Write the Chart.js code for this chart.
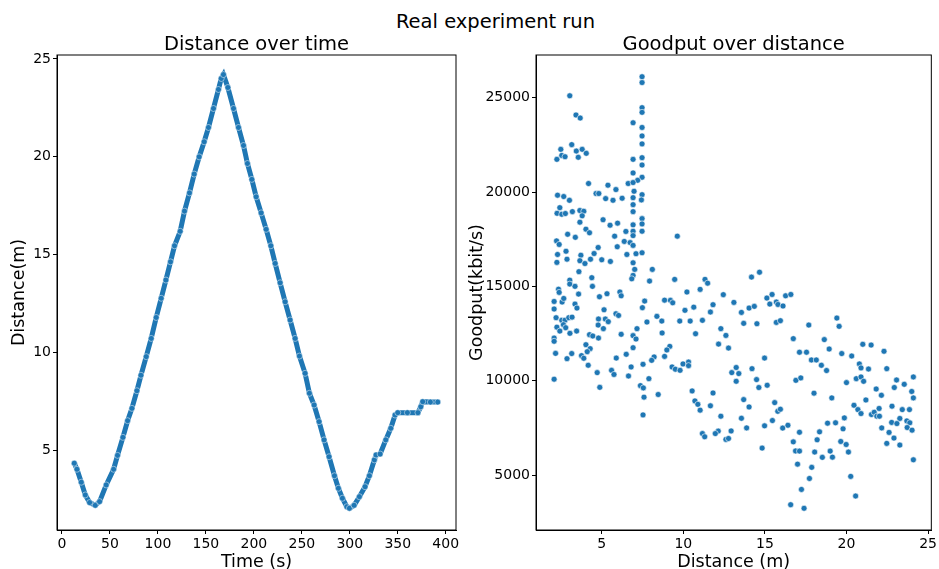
<!DOCTYPE html>
<html>
<head>
<meta charset="utf-8">
<script src="https://cdn.jsdelivr.net/npm/chart.js@4.4.1/dist/chart.umd.min.js"></script>
<style>
  body { margin: 0; width: 939px; height: 569px; background: #fff; position: relative; overflow: hidden; font-family: "DejaVu Sans"; }
  #suptitle { position: absolute; left: 0; top: 10px; width: 991px; text-align: center; font-size: 19.5px; line-height: 24px; color: #000; }
  canvas { position: absolute; top: 0; }
  #distanceChart { left: 0; }
  #goodputChart { left: 466px; }
</style>
</head>
<body>
<div id="suptitle">Real experiment run</div>
<canvas id="distanceChart" width="470" height="569"></canvas>
<canvas id="goodputChart" width="473" height="569"></canvas>
<script>
// left: distance of the robot over time
const runTime = [
  12.8, 15.6, 20.1, 24.3, 28.8, 34.7, 39.2, 46.1, 53.8, 57.9, 63.5, 68.4, 72.9, 78.1, 82.3, 87.8,
  93.0, 98.2, 103.4, 108.3, 113.1, 117.3, 123.2, 127.7, 132.9, 137.8, 143.0, 148.2, 152.7, 157.9,
  163.1, 166.0, 168.3, 172.9, 178.8, 184.0, 189.2, 193.3, 197.9, 202.4, 207.6, 212.8, 217.7, 222.2,
  227.4, 232.6, 237.8, 243.0, 247.5, 253.4, 257.9, 262.8, 268.0, 273.2, 278.4, 284.0, 288.1, 292.3,
  296.9, 299.6, 304.5, 310.0, 315.9, 320.4, 325.6, 327.4, 331.6, 337.5, 342.7, 347.2, 350.0, 360.0,
  371.0, 374.0, 376.0, 384.0, 391.7
];
const runDistance = [
  4.36, 4.05, 3.39, 2.74, 2.35, 2.21, 2.40, 3.25, 4.05, 4.76, 5.68, 6.53, 7.16, 8.06, 8.85, 9.80,
  10.73, 11.80, 12.78, 13.71, 14.64, 15.46, 16.20, 17.23, 18.16, 19.12, 20.00, 20.77, 21.50, 22.47,
  23.44, 24.00, 24.20, 23.54, 22.47, 21.50, 20.58, 19.66, 18.85, 17.96, 17.14, 16.30, 15.46, 14.56,
  13.57, 12.60, 11.67, 10.73, 9.83, 8.95, 7.93, 7.33, 6.48, 5.55, 4.69, 3.72, 3.08, 2.57,
  2.14, 2.06, 2.21, 2.65, 3.16, 3.72, 4.53, 4.78, 4.83, 5.55, 6.14, 6.82, 6.94, 6.94,
  6.94, 7.24, 7.50, 7.48, 7.48
];

// right: goodput samples against distance
const goodputDistance = [
  3.04, 3.42, 3.68, 7.47, 7.47, 7.47, 7.47, 6.92, 7.47, 7.47, 7.47, 3.16, 2.49, 3.44, 3.80, 4.05,
  2.55, 2.75, 2.25, 3.56, 6.92, 7.47, 7.47, 7.47, 6.92, 7.20, 6.62, 6.92, 4.19, 5.38, 5.87, 6.98,
  4.65, 4.82, 2.29, 2.67, 7.47, 5.24, 5.69, 6.25, 3.02, 6.92, 7.43, 6.92, 2.43, 2.26, 2.55, 2.77,
  3.20, 3.66, 3.90, 3.80, 6.92, 7.47, 5.08,
  7.47, 3.66, 5.51, 5.97, 6.92, 4.03, 4.25, 2.91, 3.38, 6.48, 6.92, 7.47, 6.92, 5.79, 2.23, 2.39,
  6.38, 6.74, 6.92, 4.78, 5.95, 2.81, 4.53, 3.72, 6.54, 7.10, 7.47, 2.29, 2.87, 4.31, 5.00, 5.53,
  2.25, 3.66, 3.97, 6.92, 8.10, 7.02, 3.60, 6.92, 6.84, 4.39, 7.93, 3.04, 3.04, 3.36, 4.43, 2.35,
  2.39, 6.11, 6.19, 3.58, 5.32, 4.86, 2.08, 2.57, 2.67, 3.36, 7.63, 2.08, 3.48, 5.14, 7.49, 5.87,
  6.03, 8.38, 2.20, 2.55, 2.75, 2.98, 3.18, 4.80, 5.22, 5.40, 7.77, 2.65, 4.78, 2.25, 2.79, 5.10,
  7.16, 2.43, 3.46, 3.05, 4.25, 4.45, 4.80, 6.19, 6.92, 7.10, 2.08, 2.08, 4.03, 4.29, 4.11, 6.92,
  2.17, 3.16, 3.76, 3.90, 2.87, 5.89, 6.50, 8.21, 8.06, 4.17, 7.53, 6.80, 5.60, 5.75, 4.72, 6.64,
  7.89, 2.08,
  4.88, 7.37, 7.55, 7.59, 7.53, 8.46,
  9.63, 9.47, 11.33, 11.49, 14.67, 14.18, 10.22, 11.03, 12.45, 8.85, 9.21, 9.35, 11.82, 13.10, 15.12, 15.44,
  16.27, 16.59, 15.30, 15.70, 15.80, 16.11, 10.10, 10.64, 11.66, 13.56, 14.03, 14.35, 8.68, 9.78, 10.42, 11.17,
  13.70, 14.51, 15.70, 15.95, 8.70, 10.75, 12.30, 12.61, 16.74, 12.16, 12.77, 9.17, 8.99, 8.85, 14.98, 9.31,
  9.51, 9.98, 10.32, 10.32, 9.80, 13.24, 14.21,
  12.97, 13.40, 13.24, 14.49, 14.63, 15.14, 16.90, 10.54, 11.82, 10.71, 10.89, 11.03, 11.66, 12.30, 13.70, 14.03,
  15.60, 15.79, 15.95, 13.56, 15.46, 14.98, 13.88, 16.41, 16.09, 12.93, 12.14, 11.96, 11.17, 11.31, 12.61, 12.77,
  16.74, 16.88, 17.00, 14.83, 16.58,
  19.41, 19.55, 17.69, 18.64, 18.94, 17.12, 17.55, 19.71, 20.32, 21.00, 21.51, 22.30, 17.85, 18.15, 18.46, 18.78,
  20.79, 20.89, 21.35, 22.47, 24.10, 17.20, 20.60, 20.89, 23.07,
  21.05, 20.00, 18.01, 19.10, 21.82, 22.14, 22.93, 23.54, 24.00, 24.10, 21.19, 20.46, 20.70, 20.89, 21.53, 21.70,
  21.86, 22.02, 22.00, 22.79, 23.42, 23.86, 23.27, 23.70, 23.88, 22.77, 23.09, 23.72, 24.02, 22.16, 22.61, 22.91,
  22.47, 23.27, 24.10, 19.87, 19.79, 19.33, 18.84, 18.35, 18.20, 17.12, 17.12, 18.05, 18.52, 19.00, 19.14, 19.65,
  19.98, 20.12, 17.87, 17.73, 17.24, 17.40, 20.26, 20.56
];
const goodputKbps = [
  25100, 24080, 23920, 26110, 25800, 24470, 24220, 23670, 23420, 22970, 22550, 22510, 22260, 22170, 22260, 22050,
  21940, 21870, 21730, 21840, 21730, 21820, 21430, 20780, 21010, 20620, 20450, 20500, 20450, 20360, 20130, 20040,
  19920, 19920, 19830, 19760, 19860, 19650, 19560, 19670, 19560, 19700, 19580, 19330, 19170, 18870, 18820, 18860,
  18960, 19020, 18980, 18740, 18960, 18590, 18530,
  18310, 18400, 18240, 18350, 18260, 18030, 17840, 17760, 17600, 17910, 17920, 17920, 17690, 17660, 17410, 17220,
  17380, 17320, 17170, 17060, 17100, 16860, 16740, 16650, 16690, 16730, 16780, 16690, 16440, 16440, 16410, 16320,
  16270, 16360, 16210, 16250, 15900, 15900, 15780, 15580, 15400, 15460, 15280, 15330, 15120, 15000, 15000, 14850,
  14680, 14700, 14500, 14590, 14610, 14450, 14200, 14170, 14360, 14060, 14220, 13800, 13850, 13760, 13870, 13550,
  13460, 13410, 13340, 13200, 13210, 13340, 13370, 13270, 13270, 13130, 13110, 12970, 12950, 12840, 12810, 12760,
  12760, 12630, 12630, 12510, 12440, 12370, 12260, 12460, 12390, 12210, 12260, 12090, 11910, 11700, 11540, 11750,
  11450, 11440, 11330, 11190, 11170, 11200, 11400, 11260, 11080, 10820, 10870, 10730, 10550, 10330, 10430, 10250,
  10110, 10080,
  9650, 9740, 9620, 9130, 8190, 9270,
  17660, 15370, 15370, 15170, 15750, 15490, 14700, 14840, 14560, 14270, 14260, 14130, 14030, 14150, 14380, 14570,
  14500, 14570, 14060, 14170, 14040, 13960, 13730, 13900, 13640, 13620, 13850, 13940, 13160, 13160, 13160, 13200,
  13040, 13020, 13090, 13180, 12530, 12490, 12760, 12400, 12230, 11940, 11730, 11820, 11630, 11290, 11200, 10730,
  10610, 10890, 10990, 10800, 10550, 10700, 10640,
  10430, 10380, 9970, 10060, 9640, 9760, 10020, 9460, 9350, 8930, 8750, 8440, 8670, 8120, 9000, 8610,
  8840, 8380, 8490, 8010, 7890, 7610, 7500, 7640, 7490, 7340, 7330, 7200, 7200, 7030, 6890, 6940,
  6760, 6280, 5580, 6430, 3430,
  13320, 12880, 12950, 12180, 11680, 11510, 11510, 11440, 11310, 11930, 11890, 11560, 11100, 11100, 10820, 10540,
  10890, 10680, 10620, 10640, 10200, 10150, 10110, 10200, 10040,
  9970, 9900, 9340, 9090, 9560, 9230, 9640, 9810, 9430, 9090, 8980, 8700, 8470, 8260, 8210, 8330,
  8120, 8120, 8530, 8650, 8470, 8470, 8000, 7870, 7770, 7790, 7730, 7520, 7380, 7500, 7260, 6960,
  6680, 6590, 5810, 8030, 7450, 7770, 7750, 7290, 6870, 7270, 6270, 6220, 5940, 6270, 5950, 6780,
  6620, 6220, 5410, 4820, 4240, 3240, 4930, 3890
];

const timeTicks = [0, 50, 100, 150, 200, 250, 300, 350, 400];
const distanceTicks = [5, 10, 15, 20, 25];
const goodputTicks = [5000, 10000, 15000, 20000, 25000];

Chart.defaults.font.family = 'DejaVu Sans';
Chart.defaults.color = '#000';

// black box round the plot area (matplotlib spines) and a title centred over it
const frame = {
  id: 'frame',
  afterDatasetsDraw(chart, args, opts) {
    const { ctx, chartArea: a } = chart;
    ctx.save();
    ctx.strokeStyle = '#000';
    ctx.lineWidth = 1;
    ctx.strokeRect(a.left, a.top, a.right - a.left, a.bottom - a.top);
    ctx.fillStyle = '#000';
    ctx.font = '19.5px "DejaVu Sans"';
    ctx.textAlign = 'center';
    ctx.textBaseline = 'alphabetic';
    ctx.fillText(opts.title, (a.left + a.right) / 2, 49.5);
    ctx.restore();
  }
};

function axis(min, max, ticks, label, size, titlePad) {
  return {
    type: 'linear',
    min: min,
    max: max,
    afterBuildTicks: s => { s.ticks = ticks.map(v => ({ value: v })); },
    afterFit: s => { if (s.isHorizontal()) s.height = size; else s.width = size; },
    ticks: { color: '#000', font: { size: 14 }, padding: 2, maxRotation: 0, autoSkip: false, callback: v => String(v) },
    grid: { display: true, drawOnChartArea: false, drawTicks: true, tickLength: 4, color: '#000' },
    border: { display: true, color: '#000' },
    title: { display: true, text: label, color: '#000', font: { size: 17.5, lineHeight: 1 }, padding: titlePad },
  };
}

new Chart(document.getElementById('distanceChart').getContext('2d'), {
  type: 'scatter',
  data: {
    datasets: [{
      data: runTime.map((t, i) => ({ x: t, y: runDistance[i] })),
      showLine: true,
      borderColor: '#1f77b4',
      borderWidth: 5,
      pointRadius: 3,
      pointBackgroundColor: '#1f77b4',
      pointBorderColor: 'rgba(255, 255, 255, 0.8)',
      pointBorderWidth: 0.6,
    }],
  },
  options: {
    responsive: false,
    animation: false,
    layout: { padding: { left: 0, right: 14, top: 55, bottom: 0 } },
    plugins: { legend: { display: false }, tooltip: { enabled: false }, frame: { title: 'Distance over time' } },
    scales: {
      x: axis(-5.2, 410.7, timeTicks, 'Time (s)', 39, { top: 0, bottom: -2 }),
      y: axis(0.95, 25.2, distanceTicks, 'Distance(m)', 57, { top: 11, bottom: 0 }),
    },
  },
  plugins: [frame],
});

new Chart(document.getElementById('goodputChart').getContext('2d'), {
  type: 'scatter',
  data: {
    datasets: [{
      data: goodputDistance.map((d, i) => ({ x: d, y: goodputKbps[i] })),
      pointRadius: 3,
      pointBackgroundColor: '#1f77b4',
      pointBorderColor: '#fff',
      pointBorderWidth: 0.6,
    }],
  },
  options: {
    responsive: false,
    animation: false,
    layout: { padding: { left: 0, right: 4, top: 55, bottom: 0 } },
    plugins: { legend: { display: false }, tooltip: { enabled: false }, frame: { title: 'Goodput over distance' } },
    scales: {
      x: axis(0.97, 25.2, distanceTicks, 'Distance (m)', 39, { top: 0, bottom: -2 }),
      y: axis(2090, 27260, goodputTicks, 'Goodput(kbit/s)', 70, { top: 3, bottom: 0 }),
    },
  },
  plugins: [frame],
});
</script>
</body>
</html>
